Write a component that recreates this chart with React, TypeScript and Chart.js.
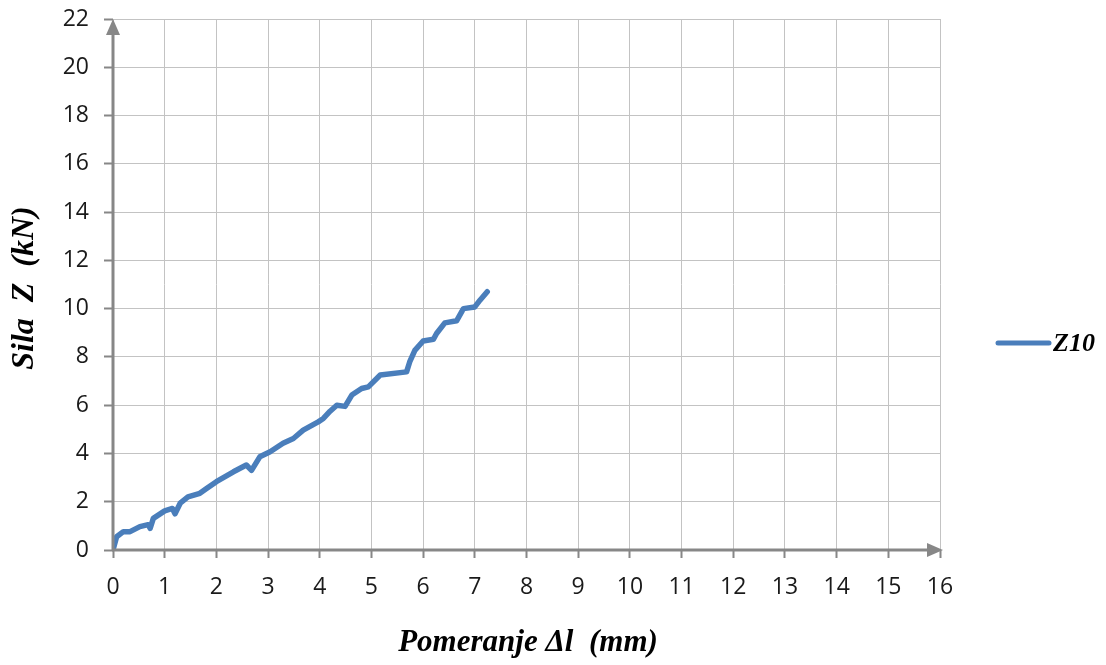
import React, { useEffect, useRef } from "react";
import { Chart, registerables } from "chart.js";

Chart.register(...registerables);

const seriesName = "Z10";
const xTitle = "Pomeranje \u0394l  (mm)";
const yTitle = "Sila  Z  (kN)";
const xValues = [0, 0.07, 0.2, 0.33, 0.52, 0.68, 0.72, 0.78, 1.0, 1.15, 1.2, 1.3, 1.45, 1.68, 1.81, 2.0, 2.33, 2.58, 2.68, 2.84, 3.04, 3.29, 3.49, 3.68, 3.97, 4.07, 4.2, 4.33, 4.49, 4.62, 4.81, 4.94, 5.17, 5.68, 5.74, 5.84, 6.0, 6.2, 6.26, 6.42, 6.65, 6.78, 7.0, 7.1, 7.24];
const yValues = [0, 0.55, 0.76, 0.76, 0.97, 1.05, 0.9, 1.31, 1.62, 1.72, 1.5, 1.94, 2.2, 2.35, 2.55, 2.83, 3.24, 3.52, 3.3, 3.86, 4.07, 4.42, 4.62, 4.97, 5.31, 5.45, 5.75, 6.0, 5.95, 6.42, 6.69, 6.76, 7.25, 7.38, 7.79, 8.27, 8.66, 8.73, 8.97, 9.41, 9.5, 10.0, 10.07, 10.35, 10.7];

const lineColor = "#4a7ebb";
const axisColor = "#878787";
const gridColor = "#c3c3c3";

const decorPlugin = {
  id: "decor",
  afterDraw(chart: any) {
    const { ctx, chartArea } = chart;
    const { left, right, top, bottom } = chartArea;
    ctx.save();
    ctx.strokeStyle = axisColor;
    ctx.fillStyle = axisColor;
    ctx.lineWidth = 3;
    ctx.beginPath();
    ctx.moveTo(left, bottom + 1);
    ctx.lineTo(left, top + 10);
    ctx.moveTo(left - 1, bottom);
    ctx.lineTo(right - 10, bottom);
    ctx.stroke();
    ctx.beginPath();
    ctx.moveTo(left, top);
    ctx.lineTo(left - 7, top + 16);
    ctx.lineTo(left + 7, top + 16);
    ctx.closePath();
    ctx.fill();
    ctx.beginPath();
    ctx.moveTo(right + 3, bottom);
    ctx.lineTo(right - 13, bottom - 7);
    ctx.lineTo(right - 13, bottom + 7);
    ctx.closePath();
    ctx.fill();
    ctx.fillStyle = "#000";
    ctx.font = "bold italic 31px 'Liberation Serif', 'DejaVu Serif', serif";
    ctx.textAlign = "center";
    ctx.textBaseline = "middle";
    ctx.fillText(xTitle, 528, 643);
    ctx.save();
    ctx.translate(25, 288);
    ctx.rotate(-Math.PI / 2);
    ctx.font = "bold italic 32px 'Liberation Serif', 'DejaVu Serif', serif";
    ctx.fillText(yTitle, 0, 0);
    ctx.restore();
    ctx.strokeStyle = lineColor;
    ctx.lineWidth = 5;
    ctx.lineCap = "round";
    ctx.beginPath();
    ctx.moveTo(998, 343);
    ctx.lineTo(1049, 343);
    ctx.stroke();
    ctx.fillStyle = "#000";
    ctx.font = "bold italic 26px 'Liberation Serif', 'DejaVu Serif', serif";
    ctx.textAlign = "left";
    ctx.fillText(seriesName, 1053, 344);
    ctx.restore();
  },
};

export default function App() {
  const ref = useRef<HTMLCanvasElement | null>(null);
  useEffect(() => {
    document.body.style.margin = "0";
    const canvas = ref.current;
    if (!canvas) return;
    const data = xValues.map((x, i) => ({ x, y: yValues[i] }));
    const chart = new Chart(canvas, {
      type: "scatter",
      data: {
        datasets: [
          {
            label: seriesName,
            data,
            showLine: true,
            borderColor: lineColor,
            backgroundColor: lineColor,
            borderWidth: 5.5,
            pointRadius: 0,
            tension: 0,
            borderCapStyle: "round",
            borderJoinStyle: "round",
          },
        ],
      },
      options: {
        animation: false,
        responsive: false,
        maintainAspectRatio: false,
        layout: { padding: { left: 0, right: 166, top: 19, bottom: 0 } },
        plugins: { legend: { display: false }, tooltip: { enabled: false } },
        scales: {
          x: {
            type: "linear",
            min: 0,
            max: 16,
            afterFit: (s: any) => {
              s.height = 115;
              s.paddingLeft = 0;
              s.paddingRight = 0;
            },
            ticks: {
              stepSize: 1,
              color: "#1a1a1a",
              font: { family: "'Open Sans'", size: 23 },
              padding: 16,
              maxRotation: 0,
            },
            grid: { color: gridColor, lineWidth: 1, tickLength: 8, tickColor: axisColor, tickWidth: 2 },
            border: { display: false },
          },
          y: {
            type: "linear",
            min: 0,
            max: 22,
            afterFit: (s: any) => {
              s.width = 113;
              s.paddingTop = 0;
              s.paddingBottom = 0;
            },
            ticks: {
              stepSize: 2,
              color: "#1a1a1a",
              font: { family: "'Open Sans'", size: 23 },
              padding: 15,
            },
            grid: { color: gridColor, lineWidth: 1, tickLength: 9, tickColor: axisColor, tickWidth: 2 },
            border: { display: false },
          },
        },
      },
      plugins: [decorPlugin],
    });
    return () => chart.destroy();
  }, []);
  return (
    <div style={{ width: 1106, height: 665 }}>
      <canvas ref={ref} width={1106} height={665} style={{ display: "block" }} />
    </div>
  );
}
